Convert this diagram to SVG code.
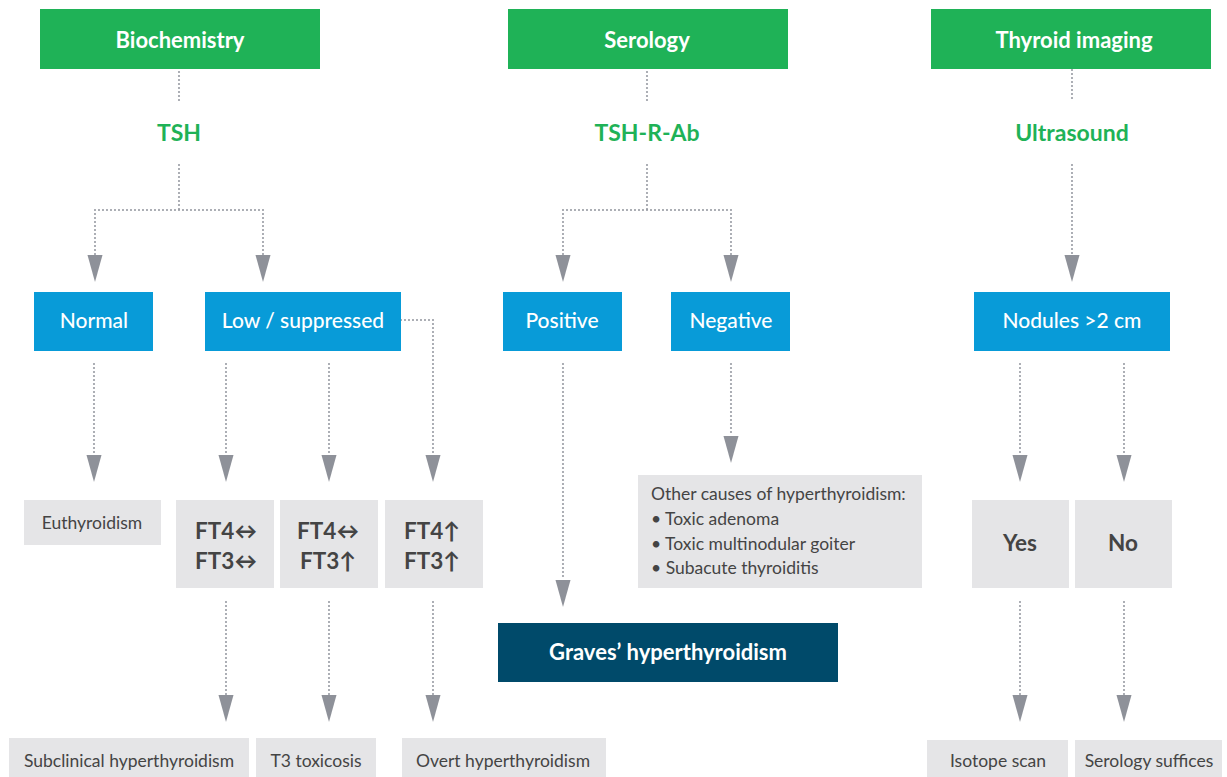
<svg xmlns="http://www.w3.org/2000/svg" xmlns:xlink="http://www.w3.org/1999/xlink" width="1227" height="777" viewBox="0 0 1227 777">
<style>
.green{fill:#1fb257}
.blue{fill:#089bd8}
.dark{fill:#004a6a}
.gray{fill:#e5e5e7}
.ttl{font-family:Lato,"Open Sans",sans-serif;font-weight:700;font-size:22px;fill:#fff;text-anchor:middle}
.lbl{font-family:Lato,"Open Sans",sans-serif;font-weight:700;font-size:23px;fill:#1fb257;text-anchor:middle}
.btx{font-family:Lato,"Open Sans",sans-serif;font-weight:500;font-size:21px;fill:#fff;text-anchor:middle}
.gtx{font-family:Lato,"Open Sans",sans-serif;font-weight:400;font-size:17.5px;fill:#444;text-anchor:middle}
.ft{font-family:Lato,"Open Sans",sans-serif;font-weight:700;font-size:22.5px;fill:#444;text-anchor:middle}
.dot{fill:none;stroke:#9a9da5;stroke-width:2.2;stroke-dasharray:0 4;stroke-linecap:round}
.ah{fill:#8e9199}
</style>
<defs>
<path id="ah" d="M-7.5,0 L7.5,0 L0,27 Z"/>
</defs>

<g id="connectors">
<path class="dot" d="M179,72 V101"/>
<path class="dot" d="M179,165 V210 M95,210 H263 M95,210 V255 M263,210 V255"/>
<path class="dot" d="M94,364 V455"/>
<path class="dot" d="M226,364 V455 M329,364 V455"/>
<path class="dot" d="M401,320 H433 V455"/>
<path class="dot" d="M226,602 V695 M329,602 V695 M433,602 V695"/>
<path class="dot" d="M647,72 V101"/>
<path class="dot" d="M647,165 V210 M563,210 H731 M563,210 V255 M731,210 V255"/>
<path class="dot" d="M563,364 V580"/>
<path class="dot" d="M731,364 V436"/>
<path class="dot" d="M1072,62 V101"/>
<path class="dot" d="M1072,165 V255"/>
<path class="dot" d="M1020,364 V455 M1124,364 V455"/>
<path class="dot" d="M1020,602 V695 M1124,602 V695"/>
<g class="ah">
<use xlink:href="#ah" x="95" y="255"/>
<use xlink:href="#ah" x="263" y="255"/>
<use xlink:href="#ah" x="94" y="455"/>
<use xlink:href="#ah" x="226" y="455"/>
<use xlink:href="#ah" x="329" y="455"/>
<use xlink:href="#ah" x="433" y="455"/>
<use xlink:href="#ah" x="226" y="695"/>
<use xlink:href="#ah" x="329" y="695"/>
<use xlink:href="#ah" x="433" y="695"/>
<use xlink:href="#ah" x="563" y="255"/>
<use xlink:href="#ah" x="731" y="255"/>
<use xlink:href="#ah" x="563" y="580"/>
<use xlink:href="#ah" x="731" y="436"/>
<use xlink:href="#ah" x="1072" y="255"/>
<use xlink:href="#ah" x="1020" y="455"/>
<use xlink:href="#ah" x="1124" y="455"/>
<use xlink:href="#ah" x="1020" y="695"/>
<use xlink:href="#ah" x="1124" y="695"/>
</g>
</g>

<g id="biochemistry"><rect class="green" x="40" y="9" width="280" height="60"/><text class="ttl" x="180" y="48">Biochemistry</text></g>
<g id="serology"><rect class="green" x="508" y="9" width="280" height="60"/><text class="ttl" x="647" y="48">Serology</text></g>
<g id="imaging"><rect class="green" x="931" y="9" width="280" height="60"/><text class="ttl" x="1074" y="48">Thyroid imaging</text></g>

<g id="tsh"><text class="lbl" x="179" y="141">TSH</text></g>
<g id="tshrab"><text class="lbl" x="647" y="141">TSH-R-Ab</text></g>
<g id="ultrasound"><text class="lbl" x="1072" y="141">Ultrasound</text></g>

<g id="normal"><rect class="blue" x="34" y="292" width="119" height="59"/><text class="btx" x="94" y="328">Normal</text></g>
<g id="low"><rect class="blue" x="205" y="292" width="196" height="59"/><text class="btx" x="303" y="328">Low / suppressed</text></g>
<g id="positive"><rect class="blue" x="503" y="292" width="119" height="59"/><text class="btx" x="562" y="328">Positive</text></g>
<g id="negative"><rect class="blue" x="671" y="292" width="119" height="59"/><text class="btx" x="731" y="328">Negative</text></g>
<g id="nodules"><rect class="blue" x="974" y="292" width="196" height="59"/><text class="btx" x="1072" y="328">Nodules &gt;2 cm</text></g>

<g id="euthyroidism"><rect class="gray" x="24" y="500" width="137" height="45"/><text class="gtx" x="92" y="529">Euthyroidism</text></g>
<g id="ft1"><rect class="gray" x="176" y="500" width="98" height="88"/><text class="ft" x="226" y="539">FT4↔</text><text class="ft" x="226" y="569">FT3↔</text></g>
<g id="ft2"><rect class="gray" x="280" y="500" width="98" height="88"/><text class="ft" x="328" y="539">FT4↔</text><text class="ft" x="328" y="569">FT3↑</text></g>
<g id="ft3"><rect class="gray" x="385" y="500" width="98" height="88"/><text class="ft" x="432" y="539">FT4↑</text><text class="ft" x="432" y="569">FT3↑</text></g>

<g id="other"><rect class="gray" x="638" y="475" width="284" height="113"/>
<text class="gtx" style="text-anchor:start" x="651" y="500">Other causes of hyperthyroidism:</text>
<text class="gtx" style="text-anchor:start" x="651" y="525">• Toxic adenoma</text>
<text class="gtx" style="text-anchor:start" x="651" y="550">• Toxic multinodular goiter</text>
<text class="gtx" style="text-anchor:start" x="651" y="574">• Subacute thyroiditis</text>
</g>

<g id="yes"><rect class="gray" x="972" y="500" width="97" height="88"/><text class="ft" x="1020" y="551">Yes</text></g>
<g id="no"><rect class="gray" x="1075" y="500" width="97" height="88"/><text class="ft" x="1123" y="551">No</text></g>

<g id="graves"><rect class="dark" x="498" y="623" width="340" height="59"/><text class="ttl" x="668" y="660">Graves’ hyperthyroidism</text></g>

<g id="subclinical"><rect class="gray" x="9" y="738" width="240" height="39"/><text class="gtx" x="129" y="767">Subclinical hyperthyroidism</text></g>
<g id="t3tox"><rect class="gray" x="256" y="738" width="120" height="39"/><text class="gtx" x="316" y="767">T3 toxicosis</text></g>
<g id="overt"><rect class="gray" x="402" y="738" width="204" height="39"/><text class="gtx" x="503" y="767">Overt hyperthyroidism</text></g>
<g id="isotope"><rect class="gray" x="927" y="740" width="141" height="37"/><text class="gtx" x="998" y="767">Isotope scan</text></g>
<g id="suffices"><rect class="gray" x="1075" y="740" width="147" height="37"/><text class="gtx" x="1149" y="767">Serology suffices</text></g>
</svg>
